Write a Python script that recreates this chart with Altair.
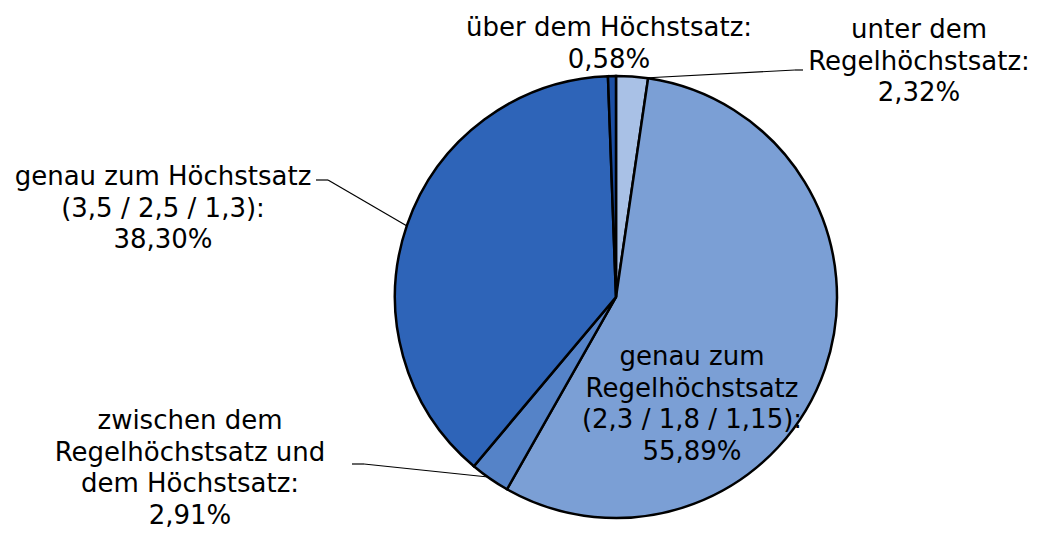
import altair as alt
import pandas as pd

categories = [
    "unter dem Regelhöchstsatz",
    "genau zum Regelhöchstsatz",
    "zwischen dem Regelhöchstsatz und dem Höchstsatz",
    "genau zum Höchstsatz",
    "über dem Höchstsatz",
]
values = [2.32, 55.89, 2.91, 38.30, 0.58]
colors = ["#a9c1e6", "#7b9fd5", "#5583c8", "#2e64b8", "#1b4ea3"]

label_texts = [
    "unter dem\nRegelhöchstsatz:\n2,32%",
    "genau zum\nRegelhöchstsatz\n(2,3 / 1,8 / 1,15):\n55,89%",
    "zwischen dem\nRegelhöchstsatz und\ndem Höchstsatz:\n2,91%",
    "genau zum Höchstsatz\n(3,5 / 2,5 / 1,3):\n38,30%",
    "über dem Höchstsatz:\n0,58%",
]

# layout (chart pixel coordinates) for labels and leader lines
label_x = [911, 684, 182, 155, 601]
label_top = [9, 336, 400, 156, 7]
leaders = [
    (795, 62, 787, 62), (787, 62, 636, 70),
    (308, 172, 320, 172), (320, 172, 399, 218),
    (344, 456, 356, 456), (356, 456, 480, 469),
]

pie_df = pd.DataFrame({"cat": categories, "val": values, "idx": list(range(len(values)))})
lab_df = pd.DataFrame({"txt": label_texts, "x": label_x, "y": label_top})
lead_df = pd.DataFrame(leaders, columns=["x", "y", "x2", "y2"])

CX, CY, R = 608, 289, 221

pie = alt.Chart(pie_df).mark_arc(radius=R, stroke="black", strokeWidth=2.5).encode(
    theta=alt.Theta("val:Q", stack=True),
    order=alt.Order("idx:Q"),
    color=alt.Color("cat:N", scale=alt.Scale(domain=categories, range=colors), legend=None),
    x=alt.value(CX),
    y=alt.value(CY),
)

lines = alt.Chart(lead_df).mark_rule(color="black", strokeWidth=1.2).encode(
    x=alt.X("x:Q", scale=None),
    y=alt.Y("y:Q", scale=None),
    x2="x2:Q",
    y2="y2:Q",
)

labels = alt.Chart(lab_df).mark_text(
    font="DejaVu Sans", fontSize=26, color="black", align="center",
    baseline="top", lineBreak="\n", lineHeight=31.5,
).encode(
    x=alt.X("x:Q", scale=None),
    y=alt.Y("y:Q", scale=None),
    text="txt:N",
)

chart = alt.layer(pie, lines, labels).properties(
    width=1024, height=522, padding=0, autosize="none"
).configure_view(stroke=None)

chart.save("out.html", embed_options={"renderer": "svg", "actions": False})
